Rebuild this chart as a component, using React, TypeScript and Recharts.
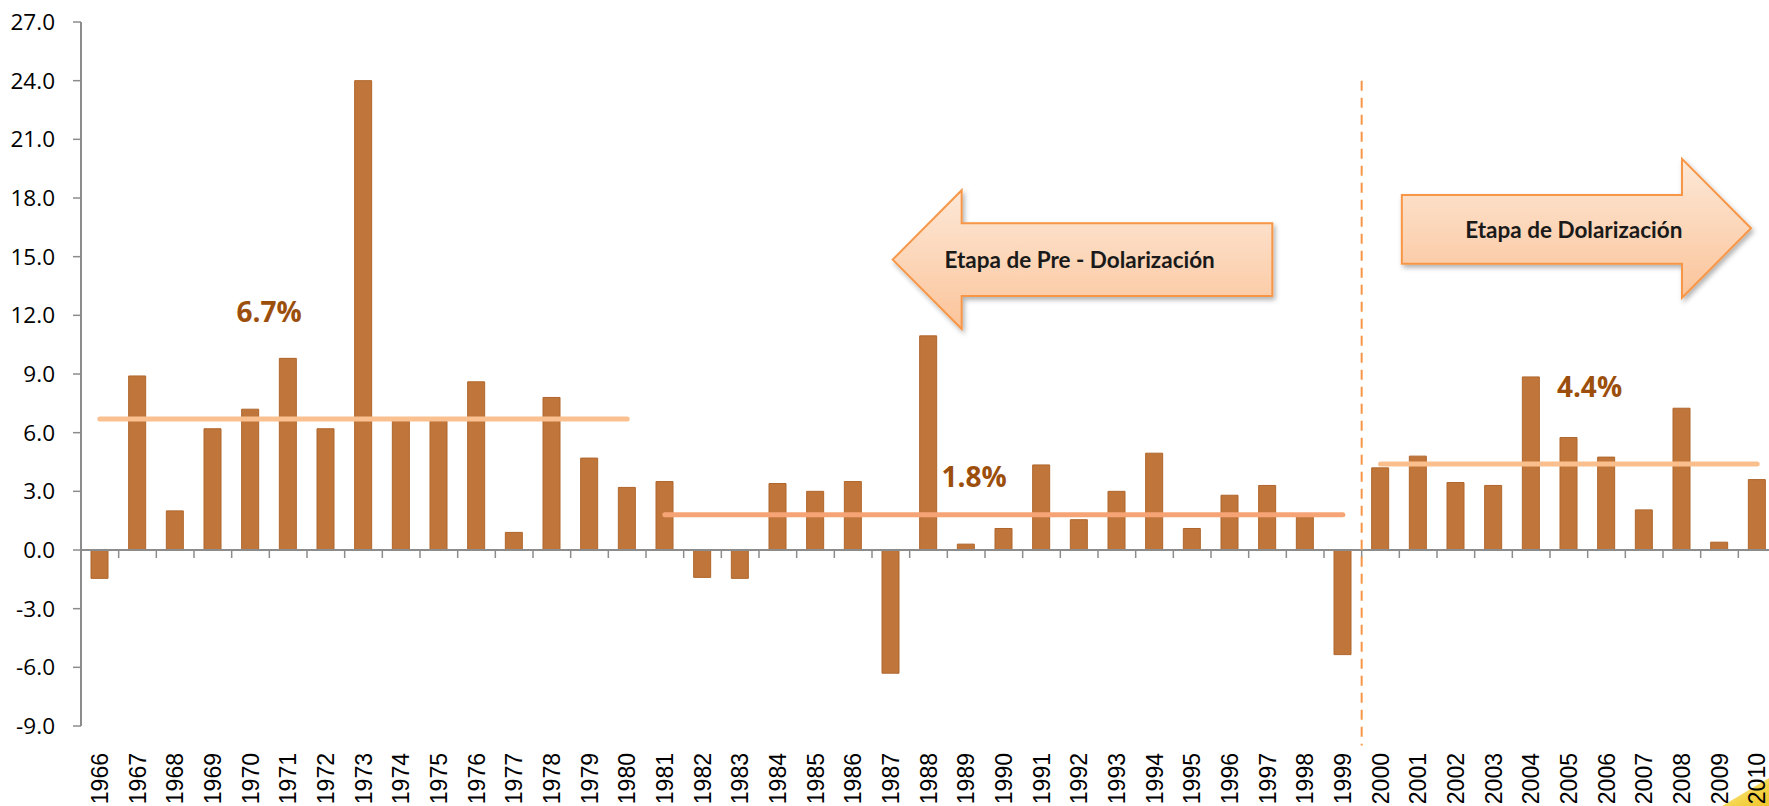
import React from 'react';
import { BarChart, Bar, XAxis, YAxis, ReferenceLine, ReferenceDot, ReferenceArea } from 'recharts';

// ---------- data ----------
const years = [
  '1966', '1967', '1968', '1969', '1970', '1971', '1972', '1973', '1974', '1975',
  '1976', '1977', '1978', '1979', '1980', '1981', '1982', '1983', '1984', '1985',
  '1986', '1987', '1988', '1989', '1990', '1991', '1992', '1993', '1994', '1995',
  '1996', '1997', '1998', '1999', '2000', '2001', '2002', '2003', '2004', '2005',
  '2006', '2007', '2008', '2009', '2010',
];

const growth = [
  -1.45, 8.9, 2.0, 6.2, 7.2, 9.8, 6.2, 24.0, 6.6, 6.6,
  8.6, 0.9, 7.8, 4.7, 3.2, 3.5, -1.4, -1.45, 3.4, 3.0,
  3.5, -6.3, 10.95, 0.3, 1.1, 4.35, 1.55, 3.0, 4.95, 1.1,
  2.8, 3.3, 1.85, -5.35, 4.2, 4.8, 3.45, 3.3, 8.85, 5.75,
  4.75, 2.05, 7.25, 0.4, 3.6,
];

const yTicks = [-9, -6, -3, 0, 3, 6, 9, 12, 15, 18, 21, 24, 27];

const periodStart = ['1966', '1981', '2000'];
const periodEnd = ['1980', '1999', '2010'];
const periodAverage = [6.7, 1.8, 4.4];
const periodLabel = ['6.7%', '1.8%', '4.4%'];
const labelYear = ['1971', '1989', '2006'];
const labelValue = [12.2, 3.8, 8.4];

const stageNames = ['Etapa de Pre - Dolarización', 'Etapa de Dolarización'];
const dollarizationBoundaryYear = '1999';

const data = years.map((year, i) => ({ year, growth: growth[i] }));

// ---------- styles ----------
const periodColors = ['#FAC090', '#F6A475', '#FBBF8D'];
const labelDx = [-19, 8, -17];
const AXIS = '#8C8C8C';

const XTick = (props: any) => {
  const { x, y, payload } = props;
  return (
    <text
      transform={`translate(${x},${y}) rotate(-90)`}
      textAnchor="end"
      dominantBaseline="central"
      fontFamily="'Liberation Sans', Arial, sans-serif"
      fontSize={23}
      fill="#000"
    >
      {payload.value}
    </text>
  );
};

const ZeroAxis = (props: any) => {
  const { x1, x2, y1 } = props;
  const n = years.length;
  const step = (x2 - x1) / n;
  return (
    <g>
      <line x1={x1} x2={x2} y1={y1} y2={y1} stroke={AXIS} strokeWidth={2} />
      {years.map((_, i) =>
        i === 0 ? null : (
          <line key={i} x1={x1 + i * step} x2={x1 + i * step} y1={y1} y2={y1 + 8} stroke={AXIS} strokeWidth={1.5} />
        )
      )}
    </g>
  );
};

const ArrowDefs = ({ id }: { id: string }) => (
  <defs>
    <linearGradient id={`${id}-grad`} x1="0" y1="0" x2="0" y2="1">
      <stop offset="0%" stopColor="#FDE8D7" />
      <stop offset="100%" stopColor="#FBC49A" />
    </linearGradient>
    <filter id={`${id}-shadow`} x="-10%" y="-20%" width="120%" height="150%">
      <feDropShadow dx="2" dy="3" stdDeviation="2.5" floodColor="#000" floodOpacity="0.3" />
    </filter>
  </defs>
);

const LeftArrow = (p: any) => {
  const { x, y, width, height } = p;
  const L = x - 17;
  const R = x + width - 14;
  const T = y;
  const B = y + height;
  const hb = L + 69;
  const bt = T + 33;
  const bb = B - 33;
  const mid = (T + B) / 2;
  const d = `M${L},${mid} L${hb},${T} L${hb},${bt} L${R},${bt} L${R},${bb} L${hb},${bb} L${hb},${B} Z`;
  return (
    <g>
      <ArrowDefs id="la" />
      <path d={d} fill="url(#la-grad)" stroke="#F79646" strokeWidth={2} filter="url(#la-shadow)" />
      <text
        x={L + 187}
        y={mid}
        textAnchor="middle"
        dominantBaseline="central"
        fontFamily="Lato, 'Open Sans', sans-serif"
        fontWeight="bold"
        fontSize={22.5}
        fill="#1A1A1A"
      >
        {stageNames[0]}
      </text>
    </g>
  );
};

const RightArrow = (p: any) => {
  const { x, y, width, height } = p;
  const L = x + 2.5;
  const tip = x + width - 25;
  const T = y;
  const B = y + height;
  const hb = tip - 69;
  const bt = T + 36;
  const bb = B - 34;
  const mid = (T + B) / 2;
  const d = `M${L},${bt} L${hb},${bt} L${hb},${T} L${tip},${mid} L${hb},${B} L${hb},${bb} L${L},${bb} Z`;
  return (
    <g>
      <ArrowDefs id="ra" />
      <path d={d} fill="url(#ra-grad)" stroke="#F79646" strokeWidth={2} filter="url(#ra-shadow)" />
      <text
        x={L + 172}
        y={(bt + bb) / 2}
        textAnchor="middle"
        dominantBaseline="central"
        fontFamily="Lato, 'Open Sans', sans-serif"
        fontWeight="bold"
        fontSize={22.5}
        fill="#1A1A1A"
      >
        {stageNames[1]}
      </text>
    </g>
  );
};

const makeLabel = (i: number) => (p: any) => (
  <text
    x={p.cx + labelDx[i]}
    y={p.cy}
    textAnchor="middle"
    dominantBaseline="central"
    fontFamily="'Open Sans', sans-serif"
    fontWeight="bold"
    fontSize={28}
    fill="#9C4F0C"
  >
    {periodLabel[i]}
  </text>
);

export default function App() {
  return (
    <div style={{ position: 'absolute', left: 0, top: 0, width: 1769, height: 806, overflow: 'hidden', background: '#fff' }}>
      <svg width={1769} height={806} style={{ position: 'absolute', left: 0, top: 0 }}>
        <defs>
          <linearGradient id="corner" x1="0" y1="0" x2="1" y2="1">
            <stop offset="0%" stopColor="#FFF6C8" />
            <stop offset="60%" stopColor="#F4D44A" />
            <stop offset="100%" stopColor="#EFC52A" />
          </linearGradient>
        </defs>
        <polygon points="1722,806 1769,778 1769,806" fill="url(#corner)" />
      </svg>
      <div style={{ position: 'absolute', left: 0, top: 0 }}>
        <BarChart
          width={1790}
          height={806}
          data={data}
          margin={{ top: 22, right: 14, bottom: 0, left: 0 }}
        >
          <XAxis
            dataKey="year"
            interval={0}
            axisLine={false}
            tickLine={false}
            tickSize={0}
            tickMargin={27}
            height={80}
            tick={(p: any) => <XTick {...p} />}
          />
          <YAxis
            width={81}
            domain={[-9, 27]}
            ticks={yTicks}
            interval={0}
            allowDataOverflow
            tickFormatter={(v: number) => v.toFixed(1)}
            axisLine={{ stroke: AXIS, strokeWidth: 2 }}
            tickLine={{ stroke: AXIS, strokeWidth: 1.5 }}
            tickSize={8}
            tickMargin={18}
            tick={{ fill: '#000', fontSize: 22.5, fontFamily: "'Open Sans', sans-serif" }}
          />
          <Bar
            dataKey="growth"
            fill="#C0763A"
            stroke="#B0652B"
            strokeWidth={1}
            barSize={17}
            isAnimationActive={false}
          />
          <ReferenceLine y={0} shape={(p: any) => <ZeroAxis {...p} />} ifOverflow="visible" />
          {periodAverage.map((v, i) => (
            <ReferenceLine
              key={`avg-${i}`}
              segment={[{ x: periodStart[i], y: v }, { x: periodEnd[i], y: v }]}
              stroke={periodColors[i]}
              strokeWidth={5}
              strokeLinecap="round"
              ifOverflow="visible"
            />
          ))}
          <ReferenceLine
            segment={[{ x: dollarizationBoundaryYear, y: 24 }, { x: dollarizationBoundaryYear, y: -10 }]}
            position="end"
            stroke="#F79646"
            strokeWidth={2}
            strokeDasharray="10 7"
            ifOverflow="visible"
          />
          {periodAverage.map((_, i) => (
            <ReferenceDot
              key={`lbl-${i}`}
              x={labelYear[i]}
              y={labelValue[i]}
              r={0}
              ifOverflow="visible"
              shape={makeLabel(i)}
            />
          ))}
          <ReferenceArea x1="1988" x2="1997" y1={11.3} y2={18.4} ifOverflow="visible" shape={(p: any) => <LeftArrow {...p} />} />
          <ReferenceArea x1="2001" x2="2010" y1={12.9} y2={20} ifOverflow="visible" shape={(p: any) => <RightArrow {...p} />} />
        </BarChart>
      </div>
    </div>
  );
}
